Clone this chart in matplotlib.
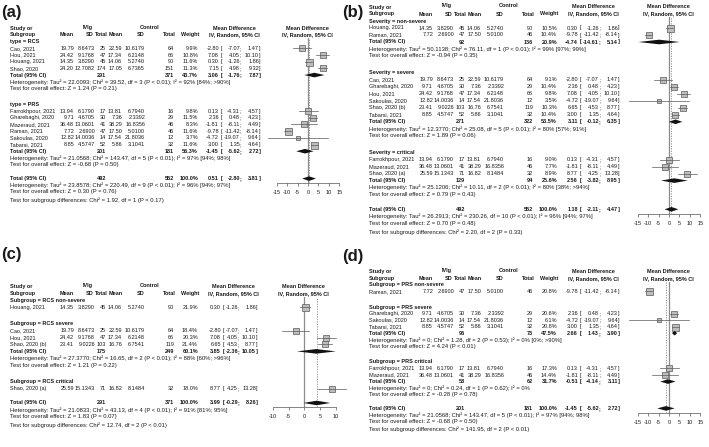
import numpy as np
import matplotlib.pyplot as plt

W, H = 709, 447
FONT = "Liberation Sans"
FS = 4.0
FS_HET = 4.25
TXT = "#1a1a1a"

# per-study values
study = ["Cao, 2021", "Hou, 2021", "Houang, 2021", "Shao, 2020", "Farrokhpour, 2021",
         "Gharebaghi, 2020", "Mazeraud, 2021", "Raman, 2021", "Sakoulas, 2020",
         "Tabarsi, 2021", "Shao, 2020 (a)", "Shao, 2020 (b)"]
mean_e = [19.79, 24.42, 14.35, 24.20, 13.94, 9.71, 36.48, 7.72, 12.82, 8.85, 25.59, 23.41]
sd_e = [8.6473, 9.1768, 3.8290, 12.7082, 6.1790, 4.6705, 13.0601, 2.6900, 14.0036, 4.5747, 15.1343, 9.0226]
n_e = [25, 47, 45, 174, 17, 30, 41, 47, 14, 52, 71, 103]
mean_c = [22.59, 17.34, 14.06, 17.05, 13.81, 7.36, 38.29, 17.50, 17.54, 5.86, 16.82, 16.76]
sd_c = [10.6179, 6.2148, 5.2740, 6.7365, 6.7940, 2.3392, 16.8356, 5.0100, 21.8036, 3.1041, 8.1484, 6.7541]
n_c = [64, 66, 90, 151, 16, 29, 46, 46, 12, 32, 32, 119]
md = [-2.80, 7.08, 0.30, 7.15, 0.13, 2.36, -1.81, -9.78, -4.72, 3.00, 8.77, 6.65]
ci_lo = [-7.07, 4.05, -1.26, 4.98, -4.31, 0.48, -8.11, -11.42, -19.07, 1.35, 4.25, 4.53]
ci_hi = [1.47, 10.10, 1.86, 9.32, 4.57, 4.23, 4.49, -8.14, 9.64, 4.64, 13.28, 8.77]

# (a) by study type
a_groups = ["type = RCS", "type = PRS"]
a_members = [[0, 1, 2, 3], [4, 5, 6, 7, 8, 9]]
a_weights = [[9.9, 10.8, 11.6, 11.3], [9.8, 11.5, 8.3, 11.6, 3.7, 11.6]]
a_totals = [(291, 371, 43.7, 3.06, -1.76, 7.87), (201, 181, 56.3, -1.45, -5.62, 2.72)]
a_het = ["Heterogeneity: Tau² = 22.0093; Chi² = 39.52, df = 3 (P < 0.01); I² = 92% [84%; >90%]",
         "Heterogeneity: Tau² = 21.0568; Chi² = 143.47, df = 5 (P < 0.01); I² = 97% [94%; 98%]"]
a_z = ["Test for overall effect: Z = 1.24 (P = 0.21)", "Test for overall effect: Z = -0.68 (P = 0.50)"]
a_overall = (492, 552, 100.0, 0.51, -2.80, 3.81)
a_notes = ["Heterogeneity: Tau² = 23.8578; Chi² = 220.49, df = 9 (P < 0.01); I² = 96% [94%; 97%]",
           "Test for overall effect: Z = 0.30 (P = 0.76)",
           "Test for subgroup differences: Chi² = 1.92, df = 1 (P = 0.17)"]

# (b) by severity
b_groups = ["Severity = non-severe", "Severity = severe", "Severity = critical"]
b_members = [[2, 7], [0, 5, 1, 8, 11, 9], [4, 6, 10]]
b_weights = [[10.5, 10.4], [9.1, 10.4, 9.8, 3.5, 10.3, 10.4], [9.0, 7.7, 8.9]]
b_totals = [(92, 136, 20.9, -4.74, -14.61, 5.14), (271, 322, 53.5, 3.11, -0.12, 6.35),
            (129, 94, 25.6, 2.56, -3.82, 8.95)]
b_het = ["Heterogeneity: Tau² = 50.1138; Chi² = 76.11, df = 1 (P < 0.01); I² = 99% [97%; 99%]",
         "Heterogeneity: Tau² = 12.3770; Chi² = 25.08, df = 5 (P < 0.01); I² = 80% [57%; 91%]",
         "Heterogeneity: Tau² = 25.1206; Chi² = 10.11, df = 2 (P < 0.01); I² = 80% [38%; >94%]"]
b_z = ["Test for overall effect: Z = -0.94 (P = 0.35)", "Test for overall effect: Z = 1.89 (P = 0.06)",
       "Test for overall effect: Z = 0.79 (P = 0.43)"]
b_overall = (492, 552, 100.0, 1.18, -2.11, 4.47)
b_notes = ["Heterogeneity: Tau² = 26.2913; Chi² = 230.26, df = 10 (P < 0.01); I² = 96% [94%; 97%]",
           "Test for overall effect: Z = 0.70 (P = 0.48)",
           "Test for subgroup differences: Chi² = 2.20, df = 2 (P = 0.33)"]

# (c) RCS by severity
c_groups = ["Subgroup = RCS non-severe", "Subgroup = RCS severe", "Subgroup = RCS critical"]
c_members = [[2], [0, 1, 11], [10]]
c_weights = [[21.9], [18.4, 20.3, 21.4], [18.0]]
c_totals = [None, (175, 249, 60.1, 3.85, -2.36, 10.05), None]
c_het = [None, "Heterogeneity: Tau² = 27.3770; Chi² = 16.65, df = 2 (P < 0.01); I² = 88% [60%; >96%]", None]
c_z = [None, "Test for overall effect: Z = 1.21 (P = 0.22)", None]
c_overall = (291, 371, 100.0, 3.99, -0.29, 8.26)
c_notes = ["Heterogeneity: Tau² = 21.0833; Chi² = 43.13, df = 4 (P < 0.01); I² = 91% [81%; 95%]",
           "Test for overall effect: Z = 1.83 (P = 0.07)",
           "Test for subgroup differences: Chi² = 12.74, df = 2 (P < 0.01)"]

# (d) PRS by severity
d_groups = ["Subgroup = PRS non-severe", "Subgroup = PRS severe", "Subgroup = PRS critical"]
d_members = [[7], [5, 8, 9], [4, 6]]
d_weights = [[20.8], [20.6, 6.1, 20.8], [17.3, 14.4]]
d_totals = [None, (96, 73, 47.5, 2.66, 1.43, 3.90), (58, 62, 31.7, -0.51, -4.14, 3.11)]
d_het = [None, "Heterogeneity: Tau² = 0; Chi² = 1.28, df = 2 (P = 0.53); I² = 0% [0%; >90%]",
         "Heterogeneity: Tau² = 0; Chi² = 0.24, df = 1 (P = 0.62); I² = 0%"]
d_z = [None, "Test for overall effect: Z = 4.24 (P < 0.01)", "Test for overall effect: Z = -0.28 (P = 0.78)"]
d_overall = (201, 181, 100.0, -1.45, -5.62, 2.72)
d_notes = ["Heterogeneity: Tau² = 21.0568; Chi² = 143.47, df = 5 (P < 0.01); I² = 97% [94%; 98%]",
           "Test for overall effect: Z = -0.68 (P = 0.50)",
           "Test for subgroup differences: Chi² = 141.95, df = 2 (P < 0.01)"]

# column right edges, relative to panel left
COL_STUDY = 10
COLS = [74, 95, 106, 122, 145, 174, 198]
HEAD_COLS = [74, 94, 108, 123, 145, 176, 199]

fig = plt.figure(figsize=(W / 100, H / 100), dpi=100)
bg = fig.add_axes([0, 0, 1, 1])
bg.set_xlim(0, W)
bg.set_ylim(H, 0)
bg.axis("off")


def put(x, y, s, ha="left", bold=False, size=FS):
    bg.text(x, y, s, ha=ha, va="center", fontsize=size, family=FONT,
            fontweight="bold" if bold else "normal", color=TXT)


def put_ci(x0, y, m, lo, hi, mdcols, bold=False):
    md_r, br_l, lo_r, hi_r = mdcols
    put(x0 + md_r, y, f"{m:.2f}", "right", bold)
    put(x0 + br_l, y, "[", "left", bold)
    put(x0 + lo_r, y, f"{lo:.2f}", "right", bold)
    put(x0 + lo_r, y, ";", "left", bold)
    put(x0 + hi_r, y, f"{hi:.2f}", "right", bold)
    put(x0 + hi_r, y, "]", "left", bold)


def draw_panel(tag, tag_xy, x0, y0, s, zero_px, ppu, xr, ticks, mdcols,
               groups, members, weights, totals, hets, zs, overall, notes):
    bg.text(tag_xy[0], tag_xy[1], tag, ha="left", va="center", fontsize=12,
            fontweight="bold", family=FONT, color=TXT)
    md_mid = x0 + (mdcols[0] - 12 + mdcols[3] + 2) / 2
    put(x0 + COL_STUDY, y0, "Study or", bold=True)
    put(x0 + COL_STUDY, y0 + s, "Subgroup", bold=True)
    put(x0 + 88, y0 - 1.2, "IVIg", "center", True)
    put(x0 + 150, y0 - 1.2, "Control", "center", True)
    for txt, c in zip(["Mean", "SD", "Total", "Mean", "SD", "Total", "Weight"], HEAD_COLS):
        put(x0 + c, y0 + s, txt, "right", True)
    put(md_mid, y0, "Mean Difference", "center", True)
    put(md_mid, y0 + s, "IV, Random, 95% CI", "center", True)
    put(zero_px - 1, y0, "Mean Difference", "center", True)
    put(zero_px - 1, y0 + s, "IV, Random, 95% CI", "center", True)

    sq = []   # studies: y, md, lo, hi, weight
    dia = []  # summaries: y, md, lo, hi
    y = y0 + 2 * s
    for gi, label in enumerate(groups):
        if gi > 0:
            y += 2.4 * s
        put(x0 + COL_STUDY, y, label, bold=True)
        for i, w in zip(members[gi], weights[gi]):
            y += s
            put(x0 + COL_STUDY, y, study[i])
            vals = [f"{mean_e[i]:.2f}", f"{sd_e[i]:.4f}", f"{n_e[i]}", f"{mean_c[i]:.2f}",
                    f"{sd_c[i]:.4f}", f"{n_c[i]}", f"{w:.1f}%"]
            for v, c in zip(vals, COLS):
                put(x0 + c, y, v, "right")
            put_ci(x0, y, md[i], ci_lo[i], ci_hi[i], mdcols)
            sq.append((y, md[i], ci_lo[i], ci_hi[i], w))
        if totals[gi] is not None:
            ne, nc, w, m, lo, hi = totals[gi]
            y += s
            put(x0 + COL_STUDY, y, "Total (95% CI)", bold=True)
            put(x0 + COLS[2], y, str(ne), "right", True)
            put(x0 + COLS[5], y, str(nc), "right", True)
            put(x0 + COLS[6], y, f"{w:.1f}%", "right", True)
            put_ci(x0, y, m, lo, hi, mdcols, True)
            dia.append((y, m, lo, hi))
            y += s
            put(x0 + COL_STUDY, y, hets[gi], size=FS_HET)
            y += s
            put(x0 + COL_STUDY, y, zs[gi], size=FS_HET)
    y += 2.1 * s
    ne, nc, w, m, lo, hi = overall
    put(x0 + COL_STUDY, y, "Total (95% CI)", bold=True)
    put(x0 + COLS[2], y, str(ne), "right", True)
    put(x0 + COLS[5], y, str(nc), "right", True)
    put(x0 + COLS[6], y, f"{w:.1f}%", "right", True)
    put_ci(x0, y, m, lo, hi, mdcols, True)
    dia.append((y, m, lo, hi))
    y_over = y
    y += s
    put(x0 + COL_STUDY, y, notes[0], size=FS_HET)
    y += s
    put(x0 + COL_STUDY, y, notes[1], size=FS_HET)
    y += 1.2 * s
    put(x0 + COL_STUDY, y, notes[2], size=FS_HET)

    # forest part
    top = y0 + 1.5 * s
    axis_y = y_over + 4.5
    left = zero_px - xr * ppu
    ax = fig.add_axes([left / W, 1 - axis_y / H, 2 * xr * ppu / W, (axis_y - top) / H])
    ax.set_xlim(-xr, xr)
    ax.set_ylim(axis_y, top)
    ax.patch.set_alpha(0)
    for side in ["top", "right", "left"]:
        ax.spines[side].set_visible(False)
    ax.spines["bottom"].set_bounds(ticks[0], ticks[-1])
    ax.spines["bottom"].set_linewidth(0.5)
    ax.spines["bottom"].set_color("#555555")
    ax.set_yticks([])
    ax.set_xticks(ticks)
    ax.set_xticklabels([str(t) for t in ticks], fontsize=FS, family=FONT, color=TXT)
    ax.tick_params(axis="x", length=2, width=0.5, pad=3, color="#555555")
    ax.axvline(0, color="#8c8c8c", lw=0.9, zorder=1)
    ax.axvline(overall[3], color="#8c8c8c", lw=0.6, ls=(0, (1.5, 1.5)), zorder=1)
    wmax = max(r[4] for r in sq)
    for yy, m, lo, hi, w in sq:
        ax.plot(m, yy, "s", ms=7.0 * np.sqrt(w / wmax) * 0.72, mfc="#bdbdbd",
                mec="#595959", mew=0.5, zorder=3)
        ax.plot([lo, hi], [yy, yy], color="#595959", lw=0.5, zorder=4)
    for yy, m, lo, hi in dia:
        ax.fill([lo, m, hi, m], [yy, yy - 2.3, yy, yy + 2.3], color="#111111", lw=0, zorder=5)


draw_panel("(a)", (1, 12), 0, 28.3, 6.68, 308, 2.09, 21, [-15, -10, -5, 0, 5, 10, 15],
           (219, 221, 240, 259), a_groups, a_members, a_weights, a_totals, a_het, a_z,
           a_overall, a_notes)
draw_panel("(b)", (342, 12), 359, 7, 7.0, 669, 2.09, 20, [-15, -10, -5, 0, 5, 10, 15],
           (219, 221, 240, 259), b_groups, b_members, b_weights, b_totals, b_het, b_z,
           b_overall, b_notes)
draw_panel("(c)", (1, 255), 0, 286.7, 6.88, 304.3, 3.13, 14, [-10, -5, 0, 5, 10],
           (221, 223, 238, 256), c_groups, c_members, c_weights, c_totals, c_het, c_z,
           c_overall, c_notes)
draw_panel("(d)", (342, 257), 359, 271.7, 6.54, 669, 2.09, 20, [-15, -10, -5, 0, 5, 10, 15],
           (219, 221, 240, 259), d_groups, d_members, d_weights, d_totals, d_het, d_z,
           d_overall, d_notes)

fig.savefig("out.png", dpi=100)
